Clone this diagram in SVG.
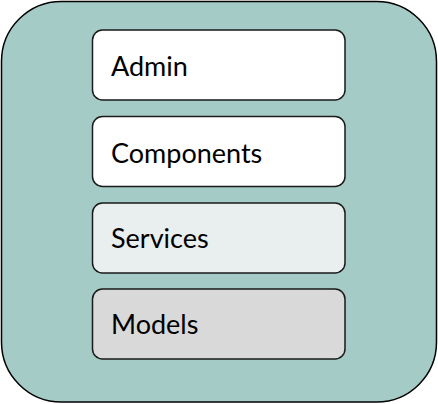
<svg xmlns="http://www.w3.org/2000/svg" width="438" height="404" viewBox="0 0 438 404">
<style>
.box{stroke:#1a1a1a;stroke-width:1.5}
.lbl{font-family:Lato,"Liberation Sans",sans-serif;font-size:27px;fill:#000}
</style>
<g id="container"><rect x="1.5" y="1.5" width="435" height="400.5" rx="60" ry="60" fill="#a5cbc6" stroke="#000" stroke-width="1.5"/></g>
<g id="admin"><rect class="box" x="92.5" y="30" width="252.5" height="70" rx="10" fill="#ffffff"/><text class="lbl" x="111" y="76">Admin</text></g>
<g id="components"><rect class="box" x="92.5" y="116.5" width="252.5" height="70" rx="10" fill="#ffffff"/><text class="lbl" x="111" y="162.5">Components</text></g>
<g id="services"><rect class="box" x="92.5" y="203" width="252.5" height="70" rx="10" fill="#e9eeef"/><text class="lbl" x="111" y="247.5">Services</text></g>
<g id="models"><rect class="box" x="92.5" y="289" width="252.5" height="70" rx="10" fill="#d9d9d9"/><text class="lbl" x="111" y="334">Models</text></g>
<g id="connectors"></g>
</svg>
